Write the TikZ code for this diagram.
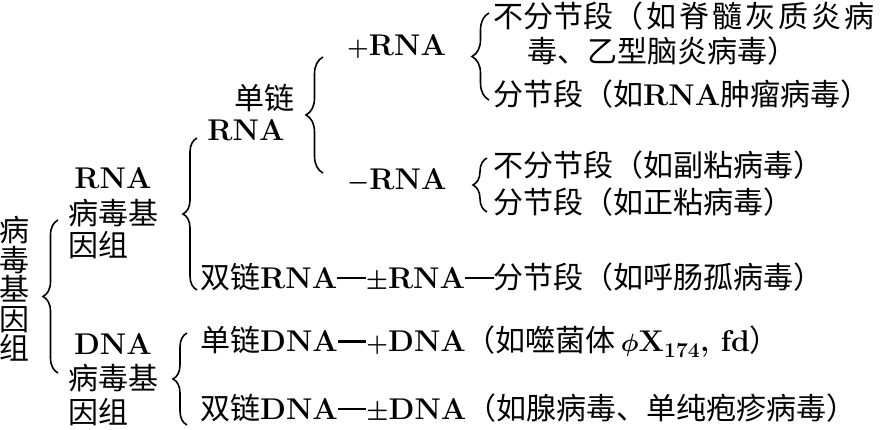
\documentclass[tikz,border=0pt]{standalone}
\usepackage{fontspec}
\newfontfamily\cjk{Noto Sans CJK SC}
\newfontfamily\cjkwide[LetterSpace=10]{Noto Sans CJK SC}
\usetikzlibrary{decorations.pathreplacing}

\def \bracewidth {1.6pt}
\def \textsize {\fontsize{30}{29.5}\selectfont}
\newcommand\zh[1]{{\cjk #1}}
\newcommand\lt[1]{{\bfseries #1}}
\newcommand\joinbar{\rule[0.3em]{0.95em}{2.6pt}}

\tikzset{
  lbl/.style={inner sep=0pt, font=\textsize},
  item/.style={lbl, anchor=west},
  bracket/.style={decorate, decoration={brace, amplitude=#1}, line width=\bracewidth},
  bracket/.default=14pt
}

\begin{document}
\begin{tikzpicture}[x=1pt, y=-1pt]
\useasboundingbox (0,0) rectangle (886,430);

% left column
\node[lbl, align=center, font=\cjk\textsize] (genome) at (14,289) {病\\毒\\基\\因\\组};
\coordinate (genometop) at (58,220);
\coordinate (genomebot) at (58,373);
\draw[bracket=15pt] (genomebot) -- (genometop);

% RNA group
\node[lbl] (rnahead) at (113,178) {\lt{RNA}};
\node[item] (rnaline1) at (68,213) {\zh{病毒基}};
\node[item] (rnaline2) at (68,245) {\zh{因组}};
\coordinate (rnatop) at (197,138);
\coordinate (rnabot) at (197,290);
\draw[bracket] (rnabot) -- (rnatop);

\node[lbl] (ssword) at (264,98) {\zh{单链}};
\node[lbl] (ssrna) at (246,130) {\lt{RNA}};
\coordinate (sstop) at (323,57);
\coordinate (ssbot) at (323,173);
\draw[bracket=17pt] (ssbot) -- (sstop);

\node[item] (plusrna) at (347,47) {\lt{\boldmath$+$RNA}};
\node[item] (minusrna) at (347,181) {\lt{\boldmath$-$RNA}};

\coordinate (plustop) at (489,13);
\coordinate (plusbot) at (489,100);
\draw[bracket=17pt] (plusbot) -- (plustop);
\node[item] (plusone) at (493,16) {\zh{不分节段}{\cjkwide （如脊髓灰质炎病}}; % runs off the edge
\node[item] (plustwo) at (527,51) {\zh{毒、乙型脑炎病毒）}};
\node[item] (plusthree) at (493,94) {\zh{分节段（如}\lt{RNA}\zh{肿瘤病毒）}};

\coordinate (minustop) at (487,158);
\coordinate (minusbot) at (487,212);
\draw[bracket] (minusbot) -- (minustop);
\node[item] (minusone) at (493,165) {\zh{不分节段（如副粘病毒）}};
\node[item] (minustwo) at (493,202) {\zh{分节段（如正粘病毒）}};

\node[item] (dsrna) at (200,277) {\zh{双链}\lt{RNA\joinbar\boldmath$\pm$RNA\joinbar}\zh{分节段（如呼肠孤病毒）}};

% DNA group
\node[lbl] (dnahead) at (113,344) {\lt{DNA}};
\node[item] (dnaline1) at (68,378) {\zh{病毒基}};
\node[item] (dnaline2) at (68,412) {\zh{因组}};
\coordinate (dnatop) at (187,333);
\coordinate (dnabot) at (187,425);
\draw[bracket] (dnabot) -- (dnatop);

\node[item] (ssdna) at (200,342) {\zh{单链}\lt{DNA\joinbar\boldmath$+$DNA}\zh{（如噬菌体}\,\lt{\boldmath$\phi$X\textsubscript{174}, fd}\zh{）}};
\node[item] (dsdna) at (200,408) {\zh{双链}\lt{DNA\joinbar\boldmath$\pm$DNA}\zh{（如腺病毒、单纯疱疹病毒）}};
\end{tikzpicture}
\end{document}
